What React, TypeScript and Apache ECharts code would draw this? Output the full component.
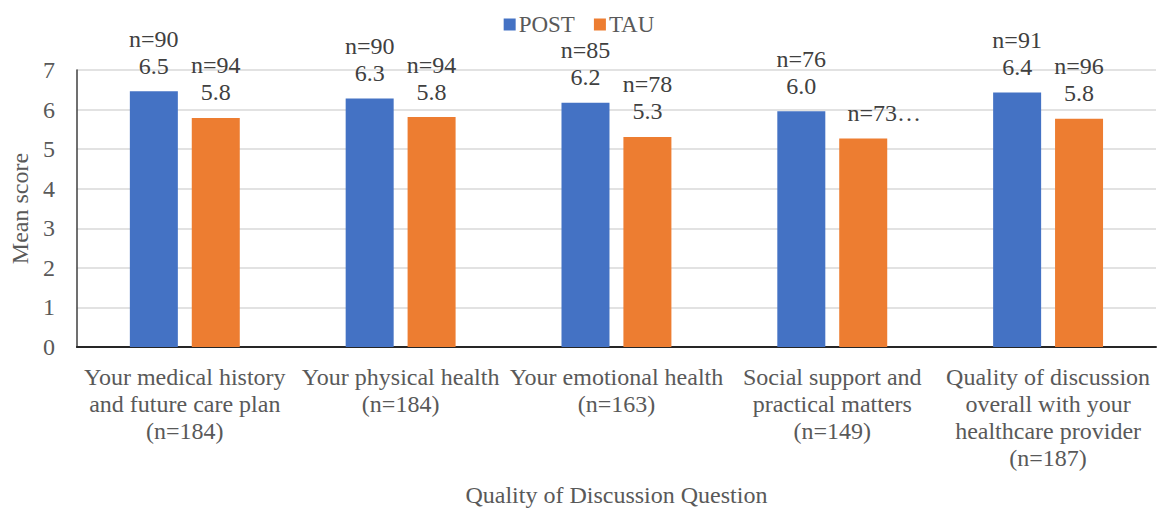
import React, { useEffect, useRef } from "react";
import * as echarts from "echarts";

const categories = [
  "Your medical history\nand future care plan\n(n=184)",
  "Your physical health\n(n=184)",
  "Your emotional health\n(n=163)",
  "Social support and\npractical matters\n(n=149)",
  "Quality of discussion\noverall with your\nhealthcare provider\n(n=187)",
];
const postValues = [6.46, 6.28, 6.17, 5.96, 6.43];
const tauValues = [5.79, 5.81, 5.31, 5.27, 5.77];
const postN = [90, 90, 85, 76, 91];
const tauN = [94, 94, 78, 73, 96];
// the reference shows this label cut short with an ellipsis
const tauLabelCut = [false, false, false, true, false];
const yTicks = { min: 0, max: 7, interval: 1 };

const FONT = '"Liberation Serif", "Times New Roman", serif';
const TEXT = "#595959";

export default function App() {
  const ref = useRef<HTMLDivElement>(null);
  useEffect(() => {
    document.body.style.margin = "0";
    const chart = echarts.init(ref.current!, undefined, { renderer: "svg" });
    const labelStyle = {
      show: true,
      position: "top",
      distance: 12,
      fontFamily: FONT,
      fontSize: 24,
      lineHeight: 27,
      color: "#404040",
    };
    const tauData = tauValues.map((v, i) =>
      tauLabelCut[i] ? { value: v, label: { offset: [21, 0] } } : v
    );
    chart.setOption({
      animation: false,
      textStyle: { fontFamily: FONT },
      legend: {
        top: 8,
        left: "center",
        itemWidth: 12,
        itemHeight: 12,
        itemGap: 19,
        icon: "rect",
        textStyle: { fontFamily: FONT, fontSize: 23, color: TEXT, padding: [0, 0, 0, -2] },
        data: ["POST", "TAU"],
      },
      grid: { left: 73, right: 2, top: 70, bottom: 165, containLabel: false },
      xAxis: {
        type: "category",
        data: categories,
        name: "Quality of Discussion Question",
        nameLocation: "middle",
        nameGap: 136,
        nameTextStyle: { fontFamily: FONT, fontSize: 24, color: TEXT },
        axisLine: { show: true, lineStyle: { color: "#262626", width: 2 } },
        axisTick: { show: false },
        axisLabel: {
          interval: 0,
          margin: 16,
          fontFamily: FONT,
          fontSize: 24,
          lineHeight: 27,
          color: TEXT,
        },
      },
      yAxis: {
        type: "value",
        min: yTicks.min,
        max: yTicks.max,
        interval: yTicks.interval,
        name: "Mean score",
        nameLocation: "middle",
        nameGap: 43,
        nameTextStyle: { fontFamily: FONT, fontSize: 24, color: TEXT },
        axisLine: { show: true, lineStyle: { color: "#404040", width: 1.5 } },
        axisTick: { show: false },
        axisLabel: { margin: 22, fontFamily: FONT, fontSize: 24, color: TEXT },
        splitLine: { show: true, lineStyle: { color: "#d9d9d9", width: 1.5 } },
      },
      series: [
        {
          name: "POST",
          type: "bar",
          data: postValues,
          barWidth: 48,
          barGap: "29%",
          itemStyle: { color: "#4472C4" },
          label: {
            ...labelStyle,
            formatter: (p: any) => `n=${postN[p.dataIndex]}\n${(p.value as number).toFixed(1)}`,
          },
        },
        {
          name: "TAU",
          type: "bar",
          data: tauData,
          barWidth: 48,
          itemStyle: { color: "#ED7D31" },
          label: {
            ...labelStyle,
            formatter: (p: any) =>
              tauLabelCut[p.dataIndex]
                ? `n=${tauN[p.dataIndex]}…`
                : `n=${tauN[p.dataIndex]}\n${(p.value as number).toFixed(1)}`,
          },
        },
      ],
    });
    return () => chart.dispose();
  }, []);
  return <div ref={ref} style={{ width: 1158, height: 512 }} />;
}
